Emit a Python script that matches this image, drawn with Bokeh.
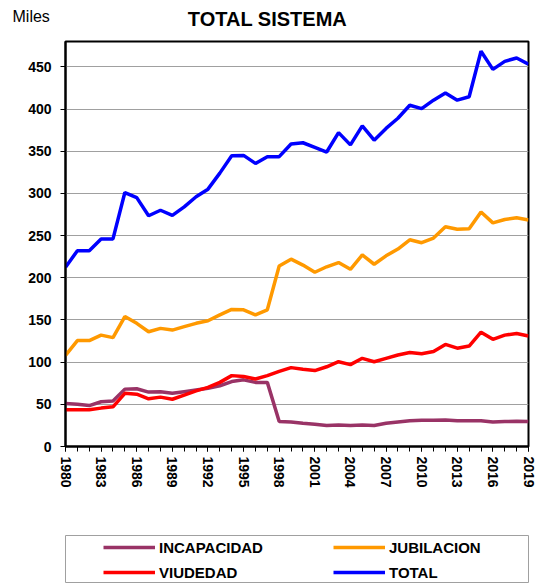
from bokeh.plotting import figure
from bokeh.models import Range1d, FixedTicker, Label, Legend, LegendItem
from bokeh.layouts import column, row
from bokeh.embed import file_html
from bokeh.resources import INLINE

years = list(range(1980, 2020))

incapacidad = [51, 50, 48.5, 53, 54, 68, 68.5, 64.5, 65, 63, 65, 67, 69, 72, 77, 79, 76, 76,
               29.5, 29, 27.5, 26.5, 25, 25.5, 25, 25.5, 25, 27.5, 29, 30.5, 31, 31, 31.5,
               30.5, 30.5, 30.5, 29, 29.5, 30, 29.5]
jubilacion = [108, 125.5, 125.5, 132, 129, 154, 146, 136, 140, 138, 142, 146, 149, 156, 162.5,
              162, 156, 162, 214, 222, 215, 206.5, 213, 218, 210, 227, 216, 226, 234, 245,
              241.5, 247, 260.5, 257.5, 258, 278, 265, 269, 271, 268.5]
viudedad = [43.5, 43.5, 43.5, 45.5, 47, 63, 62, 56.5, 58.5, 56, 61, 66, 70, 76, 84, 83, 80, 84,
            89, 93.5, 91.5, 90, 94.5, 100.5, 97, 104.5, 100.5, 104.5, 108.5, 111.5, 110, 112.5,
            121, 116.5, 119, 135.5, 127, 132, 134, 131]
total = [212.5, 232, 232, 246, 246, 301, 295, 273.5, 280, 274, 284, 296, 305, 324, 344.5, 345,
         335.5, 343.5, 343.5, 358.5, 360, 354.5, 349, 372, 357.5, 380, 363, 377, 389, 404.5,
         400.5, 410.5, 419, 410.5, 414.5, 468.5, 447, 456.5, 460.5, 453]

series_names = ["INCAPACIDAD", "JUBILACION", "VIUDEDAD", "TOTAL"]
series_values = [incapacidad, jubilacion, viudedad, total]
series_colors = ["#993366", "#FF9900", "#FF0000", "#0000FF"]

y_ticks = list(range(0, 451, 50))
x_ticks = list(range(1980, 2020, 3))

FONT = "Liberation Sans"

# header with title and unit label
hdr = figure(width=544, height=40, x_range=Range1d(0, 1), y_range=Range1d(0, 1),
             output_backend="svg", toolbar_location=None, x_axis_type=None, y_axis_type=None,
             min_border_left=0, min_border_right=0, min_border_top=0, min_border_bottom=0)
hdr.xgrid.visible = False
hdr.ygrid.visible = False
hdr.outline_line_color = None
hdr.add_layout(Label(x=267, y=22, x_units="screen", y_units="screen", text="TOTAL SISTEMA",
                     text_font=FONT, text_font_style="bold", text_font_size="20px",
                     text_align="center", text_baseline="middle", text_color="black"))
hdr.add_layout(Label(x=12, y=24, x_units="screen", y_units="screen", text="Miles",
                     text_font=FONT, text_font_size="16px",
                     text_align="left", text_baseline="middle", text_color="black"))

p = figure(width=544, height=485, x_range=Range1d(1980, 2019), y_range=Range1d(0, 480),
           output_backend="svg", toolbar_location=None,
           min_border_left=65, min_border_right=4, min_border_top=1, min_border_bottom=79)
p.outline_line_color = "black"
p.outline_line_width = 2
p.background_fill_color = "white"
p.border_fill_color = "white"

for vals, col in zip(series_values, series_colors):
    p.line(years, vals, line_color=col, line_width=3.5)

p.xgrid.visible = False
p.ygrid.grid_line_color = "#a0a0a0"
p.ygrid.grid_line_width = 1
p.ygrid.ticker = FixedTicker(ticks=y_ticks)

p.yaxis.ticker = FixedTicker(ticks=y_ticks)
p.xaxis.ticker = FixedTicker(ticks=x_ticks, minor_ticks=years)
p.xaxis.major_label_orientation = "vertical"

for ax in (p.xaxis[0], p.yaxis[0]):
    ax.axis_line_color = "black"
    ax.axis_line_width = 2
    ax.major_tick_line_color = "black"
    ax.major_tick_line_width = 1
    ax.major_tick_in = 0
    ax.major_tick_out = 5
    ax.minor_tick_line_color = "black"
    ax.minor_tick_in = 0
    ax.minor_tick_out = 5
    ax.major_label_text_font = FONT
    ax.major_label_text_font_style = "bold"
    ax.major_label_text_font_size = "14px"
    ax.major_label_text_color = "black"
p.yaxis.minor_tick_line_color = None
p.yaxis.major_label_standoff = 9
p.xaxis.major_label_standoff = 5

# legend panel
p2 = figure(width=544, height=58, x_range=Range1d(0, 1), y_range=Range1d(0, 1),
            output_backend="svg", toolbar_location=None, x_axis_type=None, y_axis_type=None,
            min_border_left=65, min_border_right=16, min_border_top=10, min_border_bottom=0)
p2.xgrid.visible = False
p2.ygrid.visible = False
p2.outline_line_color = "#a0a0a0"
p2.outline_line_width = 1

items = []
for name, col in zip(series_names, series_colors):
    r = p2.line(x=[5, 6], y=[5, 6], line_color=col, line_width=3.5)
    items.append(LegendItem(label=name, renderers=[r]))

leg = Legend(items=items, location=(38, 1), orientation="horizontal", ncols=2,
             padding=0, spacing=5, glyph_width=52, glyph_height=20, label_height=20,
             label_width=169, label_standoff=4, border_line_color=None,
             background_fill_alpha=0, label_text_font=FONT, label_text_font_style="bold",
             label_text_font_size="15px", label_text_color="black")
p2.add_layout(leg)

layout = column(row(hdr), p, p2, spacing=0)
open("out.html", "w").write(file_html(layout, INLINE))
